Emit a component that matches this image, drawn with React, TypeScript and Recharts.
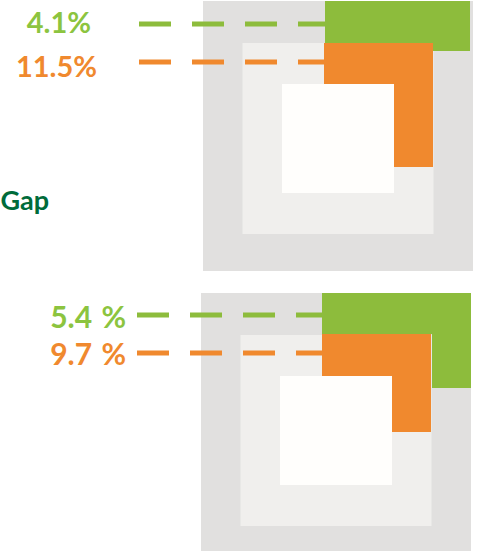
import React from 'react';
import { ComposedChart, XAxis, YAxis, ReferenceArea, ReferenceLine, ReferenceDot } from 'recharts';

// ---- data ----
const panels = ['top', 'bottom'];
const greenLabels = ['4.1%', '5.4 %'];
const orangeLabels = ['11.5%', '9.7 %'];
const sideTitle = 'Gap';

// ---- layout (chart units, 1 unit = 1px) ----
const W = 496;
const H = 551;
const SIDE = 270;
const panelOrigins = [
  { x: 203, y: 1 },
  { x: 201, y: 293 },
];
const middleRect = [39.5, 230.5, 42, 233];
const innerRect = [79, 191, 83, 192];
const greenRects = [
  [[122, 267, 0, 50]],
  [[121, 270, 0, 41], [231, 270, 41, 95]],
];
const orangeRects = [
  [[121, 230, 42, 83], [191, 230, 83, 166]],
  [[121, 230, 41, 83], [191, 230, 83, 139]],
];
const lineStartX = [139, 137];
const greenLineY = [23, 22];
const orangeLineY = [61, 60];
const greenRightX = [91, 126];
const orangeRightX = [97, 126];
const labelFontSize = [29, 30];
const labelWordSpacing = [0, 2];
const greenBaseline = [33, 328];
const orangeBaseline = [77, 365];
const titlePos = { x: 49, y: 210 };

const C = {
  outer: '#E1E0DF',
  middle: '#F0EFED',
  inner: '#FFFEFC',
  green: '#8DBC3C',
  orange: '#F0892E',
  greenText: '#8CC43F',
  orangeText: '#F0892E',
  title: '#006B3A',
};

const FONT = 'Lato, "Open Sans", sans-serif';

function area(key: string, r: number[], ox: number, oy: number, fill: string) {
  return (
    <ReferenceArea
      key={key}
      x1={ox + r[0]}
      x2={ox + r[1]}
      y1={oy + r[2]}
      y2={oy + r[3]}
      fill={fill}
      fillOpacity={1}
      stroke="none"
      ifOverflow="hidden"
    />
  );
}

function textDot(
  key: string,
  x: number,
  y: number,
  text: string,
  color: string,
  fontSize: number,
  wordSpacing = 0
) {
  return (
    <ReferenceDot
      key={key}
      x={x}
      y={y}
      r={1}
      fill="none"
      stroke="none"
      ifOverflow="visible"
      label={{
        content: (props: any) => {
          const vb = props.viewBox || {};
          const cx = (vb.x ?? 0) + (vb.width ?? 0) / 2;
          const cy = (vb.y ?? 0) + (vb.height ?? 0) / 2;
          return (
            <text
              x={cx}
              y={cy}
              textAnchor="end"
              fill={color}
              fontFamily={FONT}
              fontWeight={700}
              fontSize={fontSize}
              style={{ wordSpacing }}
            >
              {text}
            </text>
          );
        },
      }}
    />
  );
}

export default function App() {
  const els: React.ReactNode[] = [];
  panels.forEach((p, i) => {
    const { x: ox, y: oy } = panelOrigins[i];
    els.push(area(`${p}-outer`, [0, SIDE, 0, SIDE], ox, oy, C.outer));
    els.push(area(`${p}-middle`, middleRect, ox, oy, C.middle));
    els.push(area(`${p}-inner`, innerRect, ox, oy, C.inner));
    greenRects[i].forEach((r, j) => els.push(area(`${p}-g${j}`, r, ox, oy, C.green)));
    orangeRects[i].forEach((r, j) => els.push(area(`${p}-o${j}`, r, ox, oy, C.orange)));
  });
  panels.forEach((p, i) => {
    const { x: ox, y: oy } = panelOrigins[i];
    const gEnd = ox + greenRects[i][0][0];
    const oEnd = ox + orangeRects[i][0][0];
    els.push(
      <ReferenceLine
        key={`${p}-gl`}
        segment={[{ x: lineStartX[i], y: oy + greenLineY[i] }, { x: gEnd, y: oy + greenLineY[i] }]}
        stroke={C.green}
        strokeWidth={5}
        strokeDasharray="32 21"
        ifOverflow="visible"
      />
    );
    els.push(
      <ReferenceLine
        key={`${p}-ol`}
        segment={[{ x: lineStartX[i], y: oy + orangeLineY[i] }, { x: oEnd, y: oy + orangeLineY[i] }]}
        stroke={C.orange}
        strokeWidth={5}
        strokeDasharray="32 21"
        ifOverflow="visible"
      />
    );
    els.push(
      textDot(`${p}-gt`, greenRightX[i], greenBaseline[i], greenLabels[i], C.greenText, labelFontSize[i], labelWordSpacing[i])
    );
    els.push(
      textDot(`${p}-ot`, orangeRightX[i], orangeBaseline[i], orangeLabels[i], C.orangeText, labelFontSize[i], labelWordSpacing[i])
    );
  });
  els.push(textDot('title', titlePos.x, titlePos.y, sideTitle, C.title, 27));

  return (
    <div style={{ position: 'absolute', left: 0, top: 0, width: W, height: H, background: '#fff' }}>
      <ComposedChart width={W} height={H} margin={{ top: 0, right: 0, bottom: 0, left: 0 }} data={[]}>
        <XAxis type="number" dataKey="x" domain={[0, W]} hide allowDataOverflow />
        <YAxis type="number" dataKey="y" domain={[0, H]} reversed hide allowDataOverflow />
        {els}
      </ComposedChart>
    </div>
  );
}
